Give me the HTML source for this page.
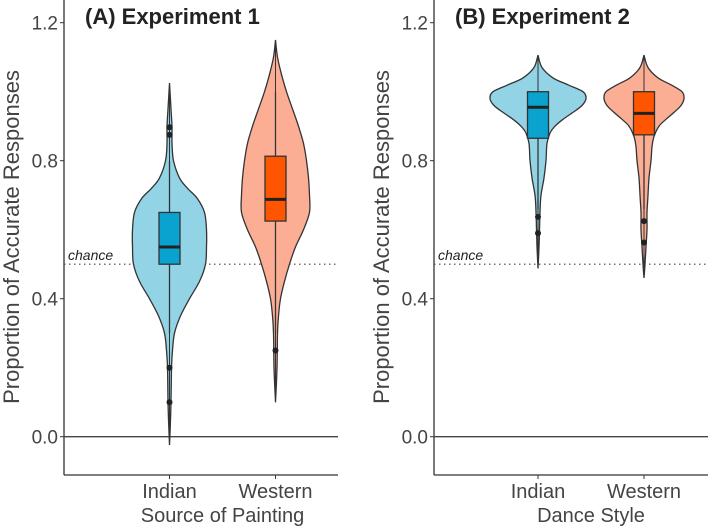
<!DOCTYPE html>
<html><head><meta charset="utf-8"><style>
body{margin:0;background:#fff;}
svg{display:block;font-family:"Liberation Sans",sans-serif;}
</style></head><body>
<svg id="c" width="709" height="529" viewBox="0 0 709 529" xmlns="http://www.w3.org/2000/svg"></svg>
<script>
const yTicks=[0.0,0.4,0.8,1.2];
const yTickLabels=["0.0","0.4","0.8","1.2"];
const categories=["Indian","Western"];
const panelTitles=["(A) Experiment 1","(B) Experiment 2"];
const xTitles=["Source of Painting","Dance Style"];
// violin profiles: [value, half-width density]
const profA0=[[1.025,0],[0.95,1.5],[0.9,2.5],[0.85,2.5],[0.8,4],[0.75,10],[0.72,18],[0.69,28],[0.65,35],[0.6,37],[0.55,37],[0.5,36],[0.45,30],[0.4,20],[0.35,11],[0.3,5],[0.25,3],[0.2,2],[0.1,1.5],[0.05,1],[-0.024,0]];
const profA1=[[1.15,0],[1.1,2],[1.05,6],[1.0,11],[0.95,17],[0.9,23],[0.85,28],[0.8,31],[0.75,33],[0.7,34],[0.65,34],[0.6,28],[0.55,20],[0.5,14],[0.45,9],[0.4,5],[0.35,3],[0.3,2],[0.2,1.5],[0.1,0]];
const profB0=[[1.106,0],[1.07,4],[1.04,15],[1.02,30],[1.0,45],[0.98,48],[0.96,44],[0.94,35],[0.92,25],[0.9,17],[0.88,12],[0.85,9],[0.8,8],[0.75,6],[0.7,3],[0.65,2],[0.6,1.5],[0.55,1],[0.488,0]];
const profB1=[[1.106,0],[1.07,4],[1.04,14],[1.02,27],[1.0,38],[0.98,40],[0.96,37],[0.94,30],[0.92,22],[0.9,15],[0.87,10],[0.84,8],[0.8,7],[0.75,5],[0.7,4],[0.65,3],[0.6,3],[0.55,2],[0.5,1],[0.46,0]];
// box stats: [whiskerLow, q1, median, q3, whiskerHigh]
const boxA0=[0.3,0.5,0.55,0.65,0.8];
const boxA1=[0.3,0.625,0.688,0.813,1.0];
const boxB0=[0.66,0.865,0.955,1.0,1.0];
const boxB1=[0.66,0.875,0.937,1.0,1.0];
const outA0=[0.897,0.875,0.2,0.1];
const outA1=[0.25];
const outB0=[0.637,0.59];
const outB1=[0.625,0.563];
const chance=0.5;

const NS="http://www.w3.org/2000/svg";
const svg=document.getElementById('c');
function el(t,a,p){const e=document.createElementNS(NS,t);for(const k in a)e.setAttribute(k,a[k]);(p||svg).appendChild(e);return e;}
function yS(v){return 436.7-v*345;}
const panels=[
 {ax:64,xend:338,cx:[169.5,275.5],profs:[profA0,profA1],boxes:[boxA0,boxA1],outs:[outA0,outA1],tx:85},
 {ax:434,xend:708,cx:[538,644],profs:[profB0,profB1],boxes:[boxB0,boxB1],outs:[outB0,outB1],tx:455}
];
const fills=["#93d3e6","#fcae94"], boxFills=["#0aa2cf","#ff5500"];
function smooth(pts){let d="M"+pts[0][0]+","+pts[0][1];for(let i=0;i<pts.length-1;i++){const p0=pts[Math.max(i-1,0)],p1=pts[i],p2=pts[i+1],p3=pts[Math.min(i+2,pts.length-1)];const c1=[p1[0]+(p2[0]-p0[0])/6,p1[1]+(p2[1]-p0[1])/6],c2=[p2[0]-(p3[0]-p1[0])/6,p2[1]-(p3[1]-p1[1])/6];d+=" C"+c1[0].toFixed(1)+","+c1[1].toFixed(1)+" "+c2[0].toFixed(1)+","+c2[1].toFixed(1)+" "+p2[0].toFixed(1)+","+p2[1].toFixed(1);}return d;}
panels.forEach((P,pi)=>{
 const g=el('g',{});
 
 
 const t=el('text',{x:P.tx,y:24,'font-size':22,'font-weight':'bold',fill:'#222'},g);t.textContent=panelTitles[pi];
 
 const ya=el('line',{x1:P.ax,y1:0,x2:P.ax,y2:475,stroke:'#333','stroke-width':1.3},g);
 
 const xa=el('line',{x1:P.ax,y1:475,x2:P.xend,y2:475,stroke:'#333','stroke-width':1.3},g);
 
 yTicks.forEach((v,i)=>{el('line',{x1:P.ax-4,y1:yS(v),x2:P.ax,y2:yS(v),stroke:'#333'},g);
  const tl=el('text',{x:P.ax-6,y:yS(v)+7,'font-size':19,'text-anchor':'end',fill:'#444'},g);tl.textContent=yTickLabels[i];
  });
 const zl=el('line',{x1:P.ax,y1:yS(0),x2:P.xend,y2:yS(0),stroke:'#444','stroke-width':1.3},g);
 
 const cl=el('line',{x1:P.ax,y1:yS(chance),x2:P.xend,y2:yS(chance),stroke:'#444','stroke-width':1.2,'stroke-dasharray':'1.5,3.5'},g);
 
 const ct=el('text',{x:P.ax+4,y:yS(chance)-4,'font-size':14,'font-style':'italic',fill:'#222'},g);ct.textContent='chance';
 
 const yt=el('text',{x:0,y:0,'font-size':22,'text-anchor':'middle',fill:'#444',transform:`translate(${P.ax-45},237) rotate(-90)`},g);yt.textContent='Proportion of Accurate Responses';
 
 const xt=el('text',{x:(P.cx[0]+P.cx[1])/2,y:522,'font-size':20,'text-anchor':'middle',fill:'#444'},g);xt.textContent=xTitles[pi];
 
 categories.forEach((c,ci)=>{
  const cx=P.cx[ci];
  el('line',{x1:cx,y1:475,x2:cx,y2:479,stroke:'#333'},g);
  const xl=el('text',{x:cx,y:498,'font-size':20,'text-anchor':'middle',fill:'#444'},g);xl.textContent=c;
  
  const prof=P.profs[ci];
  const right=prof.map(p=>[cx+p[1],yS(p[0])]);
  const left=prof.slice().reverse().map(p=>[cx-p[1],yS(p[0])]);
  const d=smooth(right)+" "+smooth(left).replace(/^M/,"L")+"Z";
  const vp=el('path',{d:d,fill:fills[ci],stroke:'#333','stroke-width':1.3},g);
  
  const b=P.boxes[ci];
  const wl=el('line',{x1:cx,y1:yS(b[0]),x2:cx,y2:yS(b[4]),stroke:'#333','stroke-width':1.3},g);
  
  el('line',{x1:cx,y1:yS(prof[prof.length-1][0]),x2:cx,y2:yS(prof[0][0]),stroke:'#333','stroke-width':1},g);
  const br=el('rect',{x:cx-10.5,y:yS(b[3]),width:21,height:yS(b[1])-yS(b[3]),fill:boxFills[ci],stroke:'#333','stroke-width':1.3},g);
  
  const md=el('line',{x1:cx-10.5,y1:yS(b[2]),x2:cx+10.5,y2:yS(b[2]),stroke:'#222','stroke-width':3},g);
  
  P.outs[ci].forEach(o=>{const pt=el('circle',{cx:cx,cy:yS(o),r:3,fill:'#222'},g);
   });
 });
});
</script>
</body></html>
